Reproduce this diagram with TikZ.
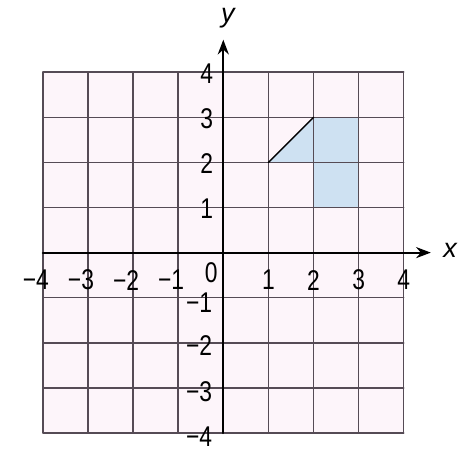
\documentclass[tikz,border=0pt]{standalone}
\usepackage{fontspec}
\setmainfont{Liberation Sans}
\usepackage{tikz}
\usetikzlibrary{arrows.meta}
\definecolor{gridpink}{RGB}{253,245,250}
\definecolor{gridline}{RGB}{85,75,85}
\definecolor{shadeblue}{RGB}{206,225,242}
\newcommand{\numlab}[1]{\scalebox{0.8}[1]{#1}}
\tikzset{
  every picture/.style={line join=round, line cap=round, >=Stealth},
  gridlines/.style={gridline, line width=0.9pt},
  axisline/.style={black, line width=1.4pt},
  numfont/.style={font=\fontsize{18}{18}\selectfont, inner sep=0pt},
  varfont/.style={font=\fontsize{17}{17}\selectfont\itshape, inner sep=0pt},
}

\begin{document}
\begin{tikzpicture}
\useasboundingbox(-4.95,-4.51) rectangle (5.38,5.6);
\fill[gridpink](-4,-4) rectangle (4,4);
\fill[shadeblue](1,2)--(2,3)--(3,3)--(3,1)--(2,1)--(2,2)--cycle;
\draw[gridlines](-4,-4) grid (4,4);
\draw[black, line width=0.9pt](1,2)--(2,3);
\draw[axisline,-Stealth](-4,0)--(4.6,0);
\draw[axisline,-Stealth](0,-4)--(0,4.72);
\draw(5.03,0.05)node[varfont](xlab){x}
(0.1,5.2)node[varfont](ylab){y}
(-0.27,-0.45)node[numfont](zero){\numlab{0}};
% labels on the x axis
\draw(-3.86,-0.61)node[numfont,anchor=east](xm4){\numlab{−4}}
(-2.86,-0.61)node[numfont,anchor=east](xm3){\numlab{−3}}
(-1.86,-0.61)node[numfont,anchor=east](xm2){\numlab{−2}}
(-0.86,-0.61)node[numfont,anchor=east](xm1){\numlab{−1}}
(1,-0.61)node[numfont](xp1){\numlab{1}}
(2,-0.61)node[numfont](xp2){\numlab{2}}
(3,-0.61)node[numfont](xp3){\numlab{3}}
(4,-0.61)node[numfont](xp4){\numlab{4}};
% labels on the y axis
\draw(-0.22,3.96)node[numfont,anchor=east](yp4){\numlab{4}}
(-0.22,2.98)node[numfont,anchor=east](yp3){\numlab{3}}
(-0.22,1.98)node[numfont,anchor=east](yp2){\numlab{2}}
(-0.22,0.98)node[numfont,anchor=east](yp1){\numlab{1}}
(-0.24,-1.1)node[numfont,anchor=east](ym1){\numlab{−1}}
(-0.24,-2.07)node[numfont,anchor=east](ym2){\numlab{−2}}
(-0.24,-3.09)node[numfont,anchor=east](ym3){\numlab{−3}}
(-0.24,-4.09)node[numfont,anchor=east](ym4){\numlab{−4}};
\end{tikzpicture}
\end{document}
